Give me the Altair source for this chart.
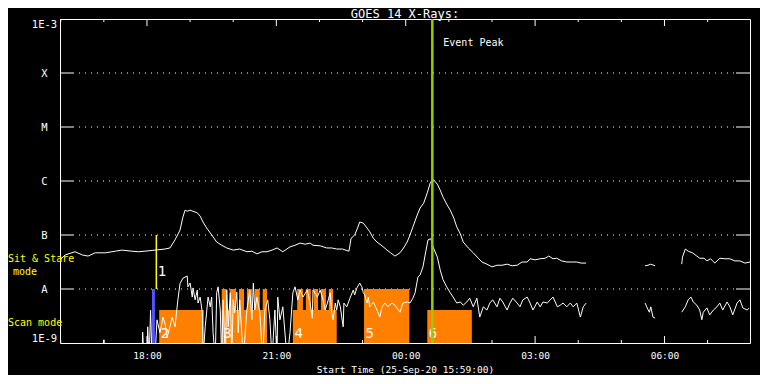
import altair as alt
import pandas as pd

START = pd.Timestamp("2020-09-25 15:59:00")
W, H = 690, 324
FONT = "DejaVu Sans Mono"
LOW = -9.3  # below the plotted range (clipped at the bottom axis)

# GOES 14, 1-8 A channel: (minutes after 15:59 UT, log10 flux W/m^2); None = data gap
long_pts = [
    (0, -7.46), (7, -7.37), (21, -7.31), (31, -7.37), (39, -7.39), (49, -7.33), (63, -7.33),
    (77, -7.30), (86, -7.28), (100, -7.30), (109, -7.31), (118, -7.30), (132, -7.28),
    (146, -7.26), (153, -7.24), (160, -7.09), (167, -6.91), (171, -6.67), (174, -6.54),
    (177, -6.56), (181, -6.54), (185, -6.56), (191, -6.59), (195, -6.65), (199, -6.76),
    (204, -6.87), (209, -6.96), (218, -7.13), (225, -7.19), (232, -7.24), (241, -7.28),
    (250, -7.26), (260, -7.31), (267, -7.30), (274, -7.35), (281, -7.31), (288, -7.31),
    (295, -7.28), (302, -7.24), (310, -7.31), (320, -7.22), (327, -7.19), (334, -7.15),
    (341, -7.17), (348, -7.15), (352, -7.19), (362, -7.20), (371, -7.24), (378, -7.24),
    (385, -7.26), (393, -7.26), (402, -7.30), (405, -7.06), (410, -7.00), (414, -6.87),
    (417, -6.76), (422, -6.78), (426, -6.85), (431, -6.94), (436, -7.06), (441, -7.13),
    (448, -7.20), (455, -7.28), (460, -7.33), (466, -7.39), (473, -7.33), (478, -7.24),
    (483, -7.13), (487, -7.00), (491, -6.85), (497, -6.63), (501, -6.50), (506, -6.41),
    (511, -6.22), (515, -6.04), (518, -5.98), (520, -5.98), (525, -6.06), (529, -6.17),
    (533, -6.30), (538, -6.43), (543, -6.54), (548, -6.69), (552, -6.85), (557, -6.98),
    (561, -7.13), (568, -7.24), (575, -7.33), (582, -7.43), (587, -7.50), (594, -7.54),
    (601, -7.59), (608, -7.56), (615, -7.56), (622, -7.54), (629, -7.57), (636, -7.56),
    (643, -7.50), (650, -7.50), (654, -7.44), (661, -7.46), (668, -7.44), (675, -7.43),
    (680, -7.39), (686, -7.44), (691, -7.43), (698, -7.48), (705, -7.50), (712, -7.50),
    (719, -7.50), (725, -7.52), (732, -7.52),
    None,
    (814, -7.57), (818, -7.56), (822, -7.54), (828, -7.57),
    None,
    (865, -7.54), (866, -7.41), (870, -7.26), (874, -7.30), (880, -7.33), (886, -7.39),
    (890, -7.43), (896, -7.43), (900, -7.48), (905, -7.44), (911, -7.52), (918, -7.43),
    (925, -7.44), (932, -7.44), (939, -7.48), (946, -7.48), (953, -7.52), (960, -7.50),
]

# GOES 14, 0.5-4 A channel
short_pts = [
    (0, LOW), (60, LOW), (61, -8.94), (62, LOW), (114, LOW), (115, -8.80), (117, LOW),
    (121, LOW), (122, -8.70), (124, LOW), (126, -8.39), (128, LOW), (132, LOW),
    (135, -8.57), (139, -8.81), (142, -8.63), (143, -8.52), (146, -8.63), (149, -8.89),
    (153, -8.70), (156, -8.52), (160, -8.70), (164, -8.20), (167, -7.90), (171, -7.80),
    (177, -7.76), (178, -7.96), (181, -7.89), (184, -8.15), (185, -7.98), (188, -8.20),
    (191, -8.02), (192, -8.26), (195, -8.15), (198, -8.44), (199, LOW), (202, -8.70),
    (206, -8.15), (209, -8.33), (211, -8.15), (213, -8.81), (216, LOW), (218, -8.07),
    (220, -7.96), (223, -8.39), (225, LOW), (227, -8.20), (230, LOW), (232, -8.02),
    (234, -8.70), (237, -8.07), (239, LOW), (241, -8.20), (243, -8.44), (246, -8.06),
    (248, -8.81), (250, -8.20), (255, LOW), (260, -8.39), (264, -8.02), (267, -8.57),
    (269, -7.89), (271, -8.39), (274, -8.15), (278, -8.44), (282, LOW), (285, -8.39),
    (289, -8.20), (292, -8.57), (295, LOW), (299, -8.39), (302, LOW), (303, -8.15),
    (306, -8.57), (310, -8.33), (316, LOW), (320, -8.81), (324, -8.07), (327, -7.96),
    (331, -8.20), (334, -8.02), (338, -8.15), (344, -8.02), (348, -8.26), (351, -8.54),
    (352, -8.02), (358, -8.15), (362, -8.02), (366, -8.20), (369, -8.39), (372, -8.26),
    (376, -8.07), (378, -8.44), (380, -8.57), (383, -8.26), (385, -8.39), (387, -8.20),
    (390, -8.33), (392, -8.52), (394, -8.70), (395, -8.26), (399, -8.33), (404, -8.15),
    (408, -8.02), (410, -8.11), (413, -7.98), (417, -7.89), (420, -7.96), (422, -8.07),
    (424, -8.11), (427, -8.26), (429, -8.15), (431, -8.33), (436, -8.24), (441, -8.39),
    (445, -8.52), (448, -8.33), (452, -8.26), (456, -8.33), (462, -8.26), (466, -8.30),
    (473, -8.43), (477, -8.26), (483, -8.24), (487, -8.26), (491, -8.17), (494, -8.07),
    (498, -7.78), (501, -7.74), (505, -7.59), (509, -7.30), (512, -7.09), (516, -7.07),
    (519, -7.22), (525, -7.41), (529, -7.65), (533, -7.83), (538, -7.96), (543, -8.07),
    (547, -8.15), (552, -8.26), (557, -8.24), (561, -8.30), (566, -8.24), (570, -8.17),
    (575, -8.33), (580, -8.17), (584, -8.52), (589, -8.33), (594, -8.39), (598, -8.26),
    (602, -8.20), (608, -8.33), (612, -8.17), (616, -8.24), (622, -8.39), (626, -8.26),
    (630, -8.17), (636, -8.26), (640, -8.33), (644, -8.20), (650, -8.15), (654, -8.26),
    (658, -8.39), (664, -8.24), (668, -8.33), (672, -8.24), (678, -8.26), (682, -8.20),
    (686, -8.15), (692, -8.33), (696, -8.30), (700, -8.26), (705, -8.33), (710, -8.26),
    (714, -8.33), (719, -8.26), (724, -8.52), (728, -8.33), (732, -8.26),
    None,
    (814, -8.26), (817, -8.35), (820, -8.43), (822, -8.33), (825, -8.52), (828, -8.54),
    None,
    (865, -8.43), (870, -8.33), (874, -8.20), (878, -8.15), (881, -8.24), (886, -8.30),
    (890, -8.39), (893, -8.57), (895, -8.43), (900, -8.35), (904, -8.48), (909, -8.39),
    (914, -8.33), (918, -8.26), (922, -8.39), (928, -8.24), (932, -8.33), (936, -8.48),
    (942, -8.26), (946, -8.20), (950, -8.35), (956, -8.39), (959, -8.35),
]

# IRIS observation windows (minutes after start)
scan_start = [138, 225, 324, 511]
scan_end = [200, 288, 385, 573]
stare_start = [225, 236, 249, 260, 271, 282, 330, 342, 353, 363, 374, 423]
stare_end = [232, 245, 256, 267, 278, 288, 338, 349, 359, 370, 380, 486]
obs_labels = ["2", "3", "4", "5", "6"]
obs_label_min = [138, 225, 324, 423, 511]
SCAN_TOP = 10 ** -8.39
STARE_TOP = 1e-8
marker_blue = (128, 132)
marker_one = 134
event_peak_min = 518

levels = [1e-9, 1e-8, 1e-7, 1e-6, 1e-5, 1e-4, 1e-3]
level_names = ["1E-9", "A", "B", "C", "M", "X", "1E-3"]


def t(m):
    return START + pd.Timedelta(minutes=m)


def to_df(pts, name):
    rows, seg = [], 0
    for p in pts:
        if p is None:
            seg += 1
            continue
        m, v = p
        rows.append({"t": t(m), "flux": 10.0 ** v, "seg": f"{name}{seg}"})
    return pd.DataFrame(rows)


df_long = to_df(long_pts, "L")
df_short = to_df(short_pts, "S")
df_curves = pd.concat([df_long, df_short], ignore_index=True)

df_scan = pd.DataFrame({"t0": [t(m) for m in scan_start], "t1": [t(m) for m in scan_end],
                        "lo": 1e-9, "hi": SCAN_TOP})
df_stare = pd.DataFrame({"t0": [t(m) for m in stare_start], "t1": [t(m) for m in stare_end],
                         "lo": 1e-9, "hi": STARE_TOP})
df_lab = pd.DataFrame({"t": [t(m) for m in obs_label_min], "text": obs_labels, "flux": 1e-9})
df_blue = pd.DataFrame({"t0": [t(marker_blue[0])], "t1": [t(marker_blue[1])], "lo": [1e-9], "hi": [1e-8]})
df_one = pd.DataFrame({"t": [t(marker_one)], "lo": [1e-8], "hi": [1e-7], "text": ["1"]})
df_peak = pd.DataFrame({"t": [t(event_peak_min)], "text": ["Event Peak"]})
df_levels = pd.DataFrame({"flux": levels[1:-1]})

hours = pd.date_range("2020-09-25 16:00", "2020-09-26 07:00", freq="h")
df_hours = pd.DataFrame({"t": hours, "major": [h.hour % 3 == 0 for h in hours]})
df_major = df_hours[df_hours.major]
df_minor = df_hours[~df_hours.major]


def dt(d, h, mi=0):
    return alt.DateTime(year=2020, month=9, date=d, hours=h, minutes=mi)


xscale = alt.Scale(domain=[dt(25, 15, 59), dt(26, 7, 59)])
yscale = alt.Scale(type="log", domain=[1e-9, 1e-3], nice=False)

# label for each decade: A/B/C/M/X class letters between the end values
label_expr = "datum.value < 3e-9 ? '%s' : " % level_names[0]
for lv, nm in zip(levels[1:-1], level_names[1:-1]):
    label_expr += "datum.value < %g ? '%s' : " % (lv * 3, nm)
label_expr += "'%s'" % level_names[-1]

x_axis = alt.Axis(values=[dt(25, 18), dt(25, 21), dt(26, 0), dt(26, 3), dt(26, 6)],
                  format="%H:%M", title="Start Time (25-Sep-20 15:59:00)", labelPadding=7,
                  titlePadding=5, ticks=False, domain=False, grid=False,
                  labelFontSize=9.5, titleFontSize=9.5)
y_axis = alt.Axis(values=levels, labelExpr=label_expr, title=None, labelAlign="center",
                  labelPadding=16, labelFlush=True, ticks=False, domain=False, grid=False,
                  labelFontSize=10.5)


def X(field):
    return alt.X(field, type="temporal", scale=xscale)


def Y(field):
    return alt.Y(field, type="quantitative", scale=yscale)


WHITE = "#ffffff"
ORANGE = "#ff8000"

grid = alt.Chart(df_levels).mark_rule(color=WHITE, strokeDash=[1, 5], strokeWidth=1).encode(
    y=Y("flux"), x=alt.value(19), x2=alt.value(W - 14))
lticks = alt.Chart(df_levels).mark_rule(color=WHITE).encode(
    y=Y("flux"), x=alt.value(0), x2=alt.value(14))
rticks = alt.Chart(df_levels).mark_rule(color=WHITE).encode(
    y=Y("flux"), x=alt.value(W - 14), x2=alt.value(W))


def hour_ticks(df, length, top):
    y0, y1 = (0, length) if top else (H, H - length)
    return alt.Chart(df).mark_rule(color=WHITE).encode(
        x=X("t"), y=alt.value(y0), y2=alt.value(y1))


tick_layers = [hour_ticks(df_major, 7, False), hour_ticks(df_minor, 3, False),
               hour_ticks(df_major, 7, True), hour_ticks(df_minor, 3, True)]

scan = alt.Chart(df_scan).mark_rect(color=ORANGE).encode(
    x=X("t0"), x2="t1:T", y=Y("lo"), y2="hi:Q")
stare = alt.Chart(df_stare).mark_rect(color=ORANGE).encode(
    x=X("t0"), x2="t1:T", y=Y("lo"), y2="hi:Q")
blue = alt.Chart(df_blue).mark_rect(color="#5555ff").encode(
    x=X("t0"), x2="t1:T", y=Y("lo"), y2="hi:Q")
yellow = alt.Chart(df_one).mark_rule(color="#ffff00", strokeWidth=1.5).encode(
    x=X("t"), y=Y("lo"), y2="hi:Q")
one_lab = alt.Chart(df_one).mark_text(color=WHITE, font=FONT, fontSize=14, align="left",
                                      baseline="middle", dx=1.5, dy=-17).encode(
    x=X("t"), y=Y("lo"), text="text:N")
obs_lab = alt.Chart(df_lab).mark_text(color=WHITE, font=FONT, fontSize=14, align="left",
                                      baseline="alphabetic", dx=1.5, dy=-5).encode(
    x=X("t"), y=Y("flux"), text="text:N")

curves = alt.Chart(df_curves).mark_line(color=WHITE, strokeWidth=1, clip=True).encode(
    x=alt.X("t:T", scale=xscale, axis=x_axis),
    y=alt.Y("flux:Q", scale=yscale, axis=y_axis),
    detail="seg:N")

peak = alt.Chart(df_peak).mark_rule(color="#99cc00", strokeWidth=2.5).encode(
    x=X("t"), y=alt.value(0), y2=alt.value(H))
peak_lab = alt.Chart(df_peak).mark_text(color=WHITE, font=FONT, fontSize=10, align="left",
                                        baseline="middle", dx=11).encode(
    x=X("t"), y=alt.value(24), text="text:N")

df_side = pd.DataFrame({"text": ["Sit & Stare", "Scan mode"], "flux": [10 ** -7.44, 10 ** -8.63]})
df_mode = pd.DataFrame({"text": ["mode"], "flux": [10 ** -7.69]})
side = alt.Chart(df_side).mark_text(color="#ffff00", font=FONT, fontSize=10, align="left",
                                    baseline="middle").encode(
    x=alt.value(-52), y=Y("flux"), text="text:N")
mode = alt.Chart(df_mode).mark_text(color="#ffff00", font=FONT, fontSize=10, align="left",
                                    baseline="middle").encode(
    x=alt.value(-47), y=Y("flux"), text="text:N")

chart = alt.layer(
    grid, lticks, rticks, *tick_layers, scan, stare, blue, yellow, one_lab, obs_lab,
    curves, peak, peak_lab, side, mode,
).properties(
    width=W, height=H,
    title=alt.TitleParams("GOES 14 X-Rays:", color=WHITE, font=FONT, fontSize=12,
                          fontWeight="normal", frame="group", anchor="middle", offset=1, dy=4),
    autosize=alt.AutoSizeParams(type="none"),
    padding={"left": 52, "top": 11, "right": 10, "bottom": 32},
    background="black",
).configure_view(stroke=WHITE, strokeWidth=1).configure_axis(
    labelColor=WHITE, titleColor=WHITE, labelFont=FONT, titleFont=FONT,
    titleFontWeight="normal",
)

chart.save("out.html", embed_options={"renderer": "svg", "actions": False})
